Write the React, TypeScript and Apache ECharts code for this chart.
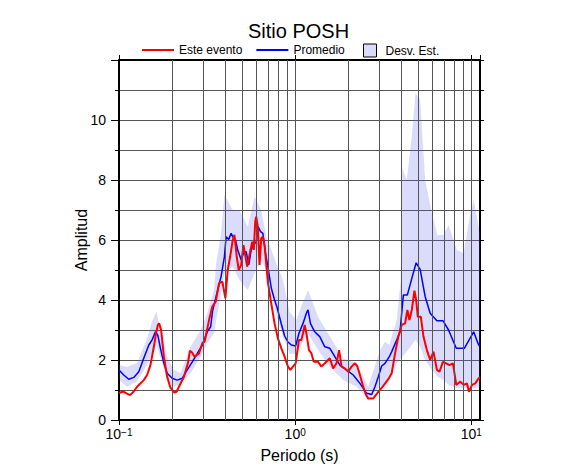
import React, { useEffect, useRef } from "react";
import * as echarts from "echarts";

// ---- Data ----
const redPeriod = [0.1,0.1054,0.1111,0.1155,0.1213,0.1266,0.1382,0.1444,0.1508,0.1577,0.1625,0.1661,0.169,0.1735,0.1798,0.1877,0.1952,0.2004,0.2066,0.2126,0.2189,0.2337,0.2463,0.2528,0.2606,0.2686,0.2846,0.2972,0.3062,0.3244,0.3388,0.3538,0.3699,0.3862,0.4018,0.4141,0.4274,0.4422,0.4522,0.466,0.4784,0.4937,0.5089,0.5224,0.5342,0.5505,0.5704,0.5825,0.5933,0.6011,0.6138,0.6277,0.6419,0.6555,0.6703,0.6998,0.7317,0.764,0.798,0.8345,0.8714,0.91,0.939,0.972,1.0065,1.051,1.085,1.108,1.133,1.158,1.198,1.237,1.275,1.349,1.41,1.473,1.573,1.642,1.717,1.776,1.833,1.914,2.0,2.09,2.183,2.25,2.331,2.434,2.522,2.598,2.775,2.964,3.164,3.379,3.533,3.69,3.853,4.029,4.207,4.335,4.451,4.593,4.753,4.861,4.97,5.17,5.349,5.593,5.84,6.098,6.376,6.597,6.897,7.202,7.522,7.864,8.212,8.655,9.04,9.45,9.7,10.09,10.54,11.0,11.2];
const redAmp = [0.9,0.95,0.88,0.83,0.95,1.11,1.33,1.5,1.83,2.44,2.9,3.17,3.22,3.0,2.11,1.44,1.1,1.0,0.91,0.95,1.11,1.44,1.9,2.31,2.24,2.11,2.22,2.56,2.61,3.33,3.78,3.94,4.56,4.61,4.06,5.0,5.44,6.0,6.17,5.44,5.0,5.17,5.83,5.44,5.11,5.5,5.94,5.67,6.61,6.78,6.44,5.17,6.06,6.11,5.83,4.6,3.89,3.22,2.72,2.39,2.11,1.78,1.67,1.78,1.89,2.67,2.67,2.89,3.17,2.89,2.33,2.22,1.94,1.94,1.78,1.89,2.06,1.72,1.89,2.33,1.78,1.72,1.61,1.78,1.89,1.8,1.5,1.11,0.85,0.72,0.72,0.94,1.14,1.36,1.56,2.22,2.78,3.17,3.22,3.67,3.33,3.67,4.31,4.0,3.44,3.44,2.78,2.33,2.0,2.28,1.67,1.61,1.94,1.89,1.83,1.89,1.17,1.28,1.17,1.22,0.94,1.17,1.22,1.39,1.42];

const bluePeriod = [0.1,0.1064,0.1136,0.1213,0.1295,0.1382,0.1477,0.1542,0.161,0.1661,0.1719,0.1798,0.1877,0.2004,0.214,0.2286,0.244,0.2606,0.2783,0.2972,0.3172,0.3313,0.3401,0.3632,0.3797,0.3965,0.4055,0.4196,0.433,0.4422,0.4581,0.4722,0.4937,0.5109,0.5272,0.5455,0.5629,0.5801,0.6011,0.6171,0.636,0.6555,0.679,0.6998,0.7317,0.764,0.7897,0.8345,0.8714,0.91,0.9513,1.0065,1.051,1.108,1.158,1.183,1.221,1.291,1.379,1.473,1.573,1.679,1.793,1.957,2.135,2.331,2.545,2.719,2.838,2.964,3.098,3.236,3.424,3.533,3.773,3.938,4.114,4.335,4.593,4.861,5.122,5.47,5.84,6.376,6.897,7.424,8.212,9.124,10.31,11.0,11.2];
const blueAmp = [1.67,1.5,1.36,1.42,1.61,2.06,2.5,2.67,2.94,2.83,2.39,1.89,1.56,1.39,1.33,1.39,1.67,1.94,2.22,2.5,2.95,3.11,3.65,4.33,4.78,5.44,6.11,6.02,6.22,6.11,6.0,5.67,5.33,5.61,5.61,5.17,5.67,5.83,5.94,6.44,6.28,6.22,5.56,5.11,4.4,4.0,3.75,3.2,2.8,2.6,2.5,2.47,2.89,3.22,3.56,3.67,3.22,2.94,2.78,2.44,2.39,2.11,1.83,1.67,1.5,1.22,0.89,0.85,1.11,1.44,1.8,1.89,2.11,2.28,2.67,2.94,4.17,4.17,4.72,5.24,5.02,4.11,3.56,3.31,3.31,3.0,2.39,2.39,2.94,2.5,2.45];

const bandPeriod = [0.1,0.1111,0.1266,0.1444,0.1542,0.1631,0.1758,0.1877,0.205,0.2235,0.2549,0.2906,0.3172,0.3464,0.3556,0.3797,0.3965,0.4422,0.4829,0.5385,0.5878,0.6419,0.6855,0.7815,0.8522,0.9305,1.016,1.103,1.183,1.349,1.573,1.873,2.232,2.598,3.03,3.236,3.424,3.773,3.975,4.059,4.301,4.593,4.816,5.122,5.47,5.972,6.427,6.953,7.424,8.288,9.04,9.87,10.31,11.2];
const bandLow = [1.33,1.11,1.28,1.83,2.2,2.5,1.89,1.33,1.09,1.22,1.56,2.11,2.56,2.89,3.3,4.2,4.89,5.11,4.67,4.33,4.89,5.33,5.0,3.5,2.78,2.2,2.22,2.6,2.89,2.33,1.78,1.33,1.11,0.67,1.11,1.15,1.44,1.89,2.05,2.11,2.28,2.5,2.67,2.44,2.0,1.67,1.44,1.33,1.17,1.06,1.06,1.06,1.06,1.1];
const bandHigh = [1.83,1.77,1.9,2.72,3.3,3.61,2.78,2.11,1.67,1.56,2.44,3.0,3.56,4.33,5.2,6.2,7.5,7.0,7.0,6.44,7.44,7.0,6.11,5.22,4.67,3.6,3.33,3.9,4.33,3.44,2.78,2.06,1.89,1.11,2.33,2.61,2.5,3.33,4.67,8.39,8.0,9.44,10.89,10.67,8.0,6.89,6.17,6.17,6.5,5.67,5.56,6.89,7.33,6.22];

const gridPeriods = [0.2,0.3,0.4,0.5,0.6,0.7,0.8,0.9,1,2,3,4,5,6,7,8,9,10];
const legendLines = ["Este evento", "Promedio"];
const legendBand = "Desv. Est.";
const titleText = "Sitio POSH";
const xName = "Periodo (s)";
const yName = "Amplitud";

const zip = (a: number[], b: number[]) => a.map((v, i) => [v, b[i]]);

const FONT = "'Liberation Sans', Arial, Helvetica, sans-serif";
const GRID = "#555";
const BAND = "rgba(90,90,235,0.22)";

function powLabel(v: number) {
  const l = Math.log10(v);
  const e = Math.round(l);
  if (Math.abs(l - e) > 1e-6) return "";
  const s = e < 0 ? "\u2212" + -e : String(e);
  return `{b|10}{s|${s}}`;
}

export default function App() {
  const ref = useRef<HTMLDivElement>(null);
  useEffect(() => {
    if (!ref.current) return;
    const chart = echarts.init(ref.current, null, { renderer: "svg" });
    const axisLine = { show: true, onZero: false, lineStyle: { color: "#000", width: 2 } };
    chart.setOption({
      animation: false,
      backgroundColor: "#fff",
      textStyle: { fontFamily: FONT, color: "#000" },
      title: {
        text: titleText,
        left: 248,
        top: 21,
        padding: 0,
        textStyle: { fontSize: 20, lineHeight: 20, fontWeight: "normal", color: "#000", fontFamily: FONT },
      },
      legend: [
        {
          data: legendLines.map((n) => ({ name: n, icon: "path://M0,0H32V2H0Z" })),
          left: 142,
          top: 44,
          padding: 0,
          itemWidth: 32,
          itemHeight: 12,
          itemGap: 14,
          symbolKeepAspect: true,
          textStyle: { fontSize: 12, lineHeight: 12, color: "#000", fontFamily: FONT },
          selectedMode: false,
        },
        {
          data: [
            {
              name: legendBand,
              icon: "rect",
              itemStyle: { color: "#dadafa", borderColor: "#000", borderWidth: 1 },
            },
          ],
          left: 363,
          top: 43.5,
          padding: 0,
          itemWidth: 13,
          itemHeight: 13,
          itemGap: 8,
          textStyle: { fontSize: 12, lineHeight: 12, color: "#000", fontFamily: FONT, padding: [0, 0, 0, 4] },
          selectedMode: false,
        },
      ],
      grid: { left: 119, right: 106, top: 60, bottom: 55, containLabel: false },
      xAxis: [
        {
          type: "log",
          logBase: 10,
          min: 0.1,
          max: 11.2,
          position: "bottom",
          axisLine,
          axisTick: { show: true, inside: false, length: 5, lineStyle: { color: "#000", width: 1 } },
          minorTick: { show: false },
          splitLine: { show: false },
          axisLabel: {
            show: true,
            margin: 7,
            color: "#000",
            showMaxLabel: false,
            formatter: powLabel,
            rich: {
              b: { fontSize: 14, color: "#000", fontFamily: FONT, verticalAlign: "top" },
              s: { fontSize: 10, color: "#000", fontFamily: FONT, verticalAlign: "top" },
            },
          },
          name: xName,
          nameLocation: "middle",
          nameGap: 27,
          nameMoveOverlap: false,
          nameTextStyle: { fontSize: 16, color: "#000", fontFamily: FONT },
        },
        {
          type: "log",
          logBase: 10,
          min: 0.1,
          max: 11.2,
          position: "top",
          axisLine,
          axisTick: { show: true, inside: false, length: 5, lineStyle: { color: "#000", width: 1 } },
          axisLabel: { show: false },
          splitLine: { show: false },
        },
      ],
      yAxis: [
        {
          type: "value",
          min: 0,
          max: 12,
          interval: 2,
          position: "left",
          axisLine,
          axisTick: { show: true, inside: false, length: 8, lineStyle: { color: "#000", width: 1 } },
          minorTick: { show: true, splitNumber: 2, length: 4, lineStyle: { color: "#000", width: 1 } },
          splitLine: { show: true, lineStyle: { color: GRID, width: 1 } },
          minorSplitLine: { show: true, lineStyle: { color: GRID, width: 1 } },
          axisLabel: {
            show: true,
            margin: 13,
            fontSize: 14,
            color: "#000",
            fontFamily: FONT,
            showMaxLabel: false,
          },
          name: yName,
          nameLocation: "middle",
          nameGap: 30,
          nameMoveOverlap: false,
          nameTextStyle: { fontSize: 16, color: "#000", fontFamily: FONT },
        },
        {
          type: "value",
          min: 0,
          max: 12,
          interval: 2,
          position: "right",
          axisLine,
          axisTick: { show: true, inside: false, length: 4, lineStyle: { color: "#000", width: 1 } },
          minorTick: { show: true, splitNumber: 2, length: 4, lineStyle: { color: "#000", width: 1 } },
          splitLine: { show: false },
          axisLabel: { show: false },
        },
      ],
      series: [
        {
          name: legendBand,
          type: "custom",
          data: bandPeriod.map((p, i) => [p, bandLow[i], bandHigh[i]]),
          encode: { x: 0, y: [1, 2] },
          silent: true,
          clip: true,
          z: 1,
          itemStyle: { color: BAND },
          renderItem: (params: any, api: any) => {
            if (params.dataIndex !== 0) return null;
            const up = bandPeriod.map((p, i) => api.coord([p, bandHigh[i]]));
            const lo = bandPeriod.map((p, i) => api.coord([p, bandLow[i]])).reverse();
            return {
              type: "polygon",
              shape: { points: up.concat(lo) },
              style: { fill: BAND, stroke: "none" },
              silent: true,
            };
          },
          markLine: {
            silent: true,
            symbol: "none",
            label: { show: false },
            lineStyle: { color: GRID, width: 1, type: "solid" },
            emphasis: { disabled: true },
            data: gridPeriods.map((p) => ({ xAxis: p })),
          },
        },
        {
          name: "Promedio",
          type: "line",
          data: zip(bluePeriod, blueAmp),
          symbol: "none",
          showSymbol: false,
          color: "#0000ff",
          lineStyle: { color: "#0000ff", width: 1.5 },
          z: 3,
        },
        {
          name: "Este evento",
          type: "line",
          data: zip(redPeriod, redAmp),
          symbol: "none",
          showSymbol: false,
          color: "#ff0000",
          lineStyle: { color: "#ff0000", width: 2 },
          z: 4,
        },
      ],
    });
    return () => chart.dispose();
  }, []);
  return (
    <div
      ref={ref}
      style={{ position: "fixed", left: 0, top: 0, width: 586, height: 475, background: "#fff" }}
    />
  );
}
